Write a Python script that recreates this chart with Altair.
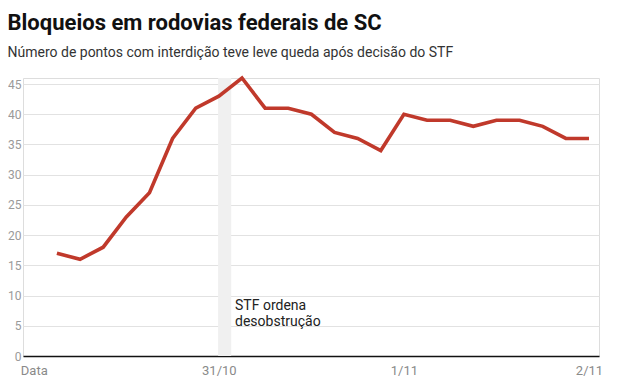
import altair as alt
import pandas as pd

# hours since 30/10 00:00
hours = [3, 6, 9, 12, 15, 18, 21, 24, 27, 30, 33, 36, 39, 42, 45, 48, 51, 54, 57, 60, 63, 66, 69, 72]
values = [17, 16, 18, 23, 27, 36, 41, 43, 46, 41, 41, 40, 37, 36, 34, 40, 39, 39, 38, 39, 39, 38, 36, 36]

tick_hours = [0, 24, 48, 72]
tick_labels = ["Data", "31/10", "1/11", "2/11"]
y_ticks = [0, 5, 10, 15, 20, 25, 30, 35, 40, 45]

band_start = [23.9]
band_end = [25.6]
note_hour = [26.1]
note_value = [7.6]
note_text = [["STF ordena", "desobstrução"]]

df = pd.DataFrame({"h": hours, "v": values})
band = pd.DataFrame({"h": band_start, "h2": band_end})
note = pd.DataFrame({"h": note_hour, "v": note_value, "t": note_text})

label_expr = " : ".join(
    f"datum.value == {h} ? '{l}'" for h, l in zip(tick_hours, tick_labels)
) + " : ''"

xscale = alt.Scale(domain=[-1.4, 73.3], nice=False, zero=False)
yscale = alt.Scale(domain=[0, 46], nice=False)

FONT = "Roboto"

x_axis = alt.Axis(values=tick_hours, labelExpr=label_expr, grid=False, ticks=False,
                  domain=True, domainColor="#111111", domainWidth=1.5,
                  labelColor="#8a8a8a", labelFontSize=13, labelFont=FONT,
                  labelPadding=8, labelFlush=False, labelOverlap=False)
y_axis = alt.Axis(values=y_ticks, grid=True, gridColor="#e2e2e2", gridWidth=1,
                  ticks=False, domain=False, labelColor="#9a9a9a", labelFontSize=12,
                  labelFont=FONT, labelPadding=2, labelOverlap=False)

band_layer = alt.Chart(band).mark_rect(color="#f0f0f0").encode(
    x=alt.X("h:Q", scale=xscale, title=None, axis=x_axis),
    x2="h2:Q",
    y=alt.value(0),
    y2=alt.value(278),
)

line_layer = alt.Chart(df).mark_line(color="#c0392b", strokeWidth=3.6, clip=False,
                                     strokeJoin="miter").encode(
    x=alt.X("h:Q", scale=xscale, title=None, axis=x_axis),
    y=alt.Y("v:Q", scale=yscale, title=None, axis=y_axis),
)

text_layer = alt.Chart(note).mark_text(align="left", baseline="alphabetic", fontSize=14,
                                       font=FONT, color="#222222", lineHeight=16).encode(
    x=alt.X("h:Q", scale=xscale, title=None, axis=x_axis),
    y=alt.Y("v:Q", scale=yscale, title=None, axis=y_axis),
    text="t",
)

chart = alt.layer(band_layer, line_layer, text_layer).properties(
    width=576,
    height=278,
    autosize=alt.AutoSizeParams(type="none"),
    padding={"left": 15, "top": 70, "right": 10, "bottom": 20},
    title=alt.TitleParams(
        text="Bloqueios em rodovias federais de SC",
        subtitle="Número de pontos com interdição teve leve queda após decisão do STF",
        anchor="start", frame="bounds", font=FONT, fontSize=22, fontWeight="bold",
        color="#111111", subtitleFont=FONT, subtitleFontSize=14, subtitleColor="#333333",
        subtitlePadding=11, offset=10, dx=0,
    ),
).configure_view(stroke=None).configure(background="white")

chart.save("out.html", embed_options={"renderer": "svg", "actions": False})
